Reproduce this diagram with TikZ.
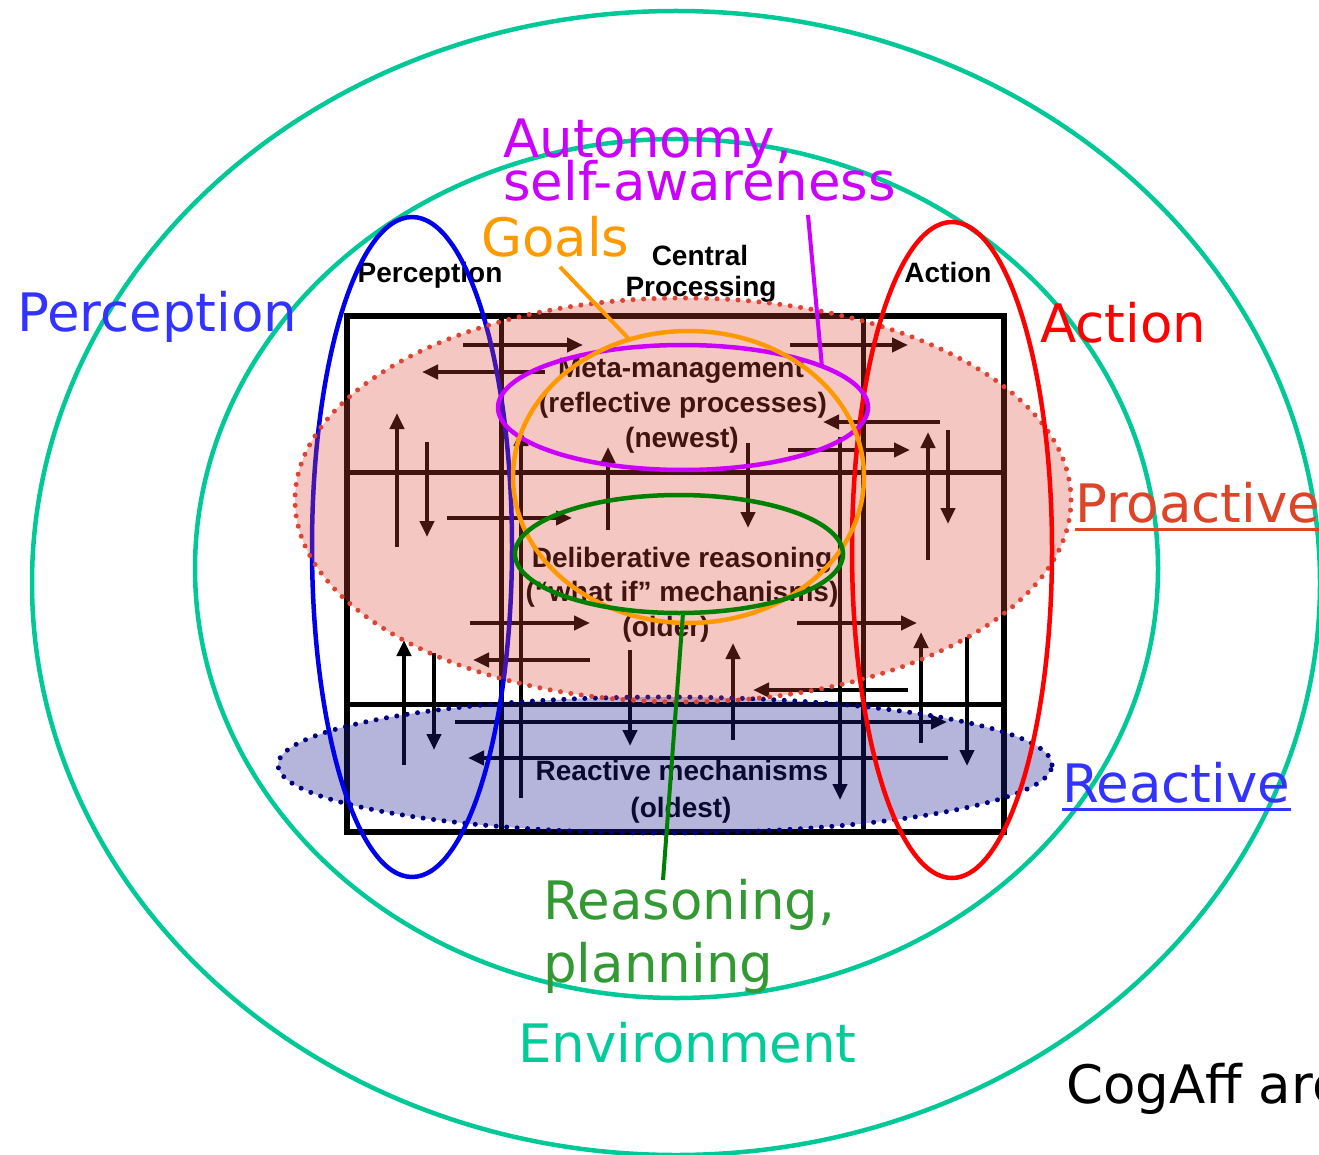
\documentclass[tikz,border=0pt]{standalone}
\usepackage{fontspec}
\setmainfont{DejaVu Sans}
\newfontfamily\scanfont{Liberation Sans}
\usetikzlibrary{arrows.meta}
\definecolor{envteal}{RGB}{0,200,150}
\definecolor{envtext}{RGB}{0,204,153}
\definecolor{percblue}{RGB}{0,0,235}
\definecolor{labblue}{RGB}{51,51,255}
\definecolor{actred}{RGB}{255,0,0}
\definecolor{proorange}{RGB}{221,68,40}
\definecolor{propink}{RGB}{218,68,54}
\definecolor{prodot}{RGB}{221,68,51}
\definecolor{reacfill}{RGB}{30,30,150}
\definecolor{reacdot}{RGB}{0,0,128}
\definecolor{autpurple}{RGB}{204,0,255}
\definecolor{goalorange}{RGB}{255,153,0}
\definecolor{reasgreen}{RGB}{0,128,0}
\definecolor{reastext}{RGB}{51,153,51}
\tikzset{
  bigtext/.style={font=\fontsize{53}{53}\selectfont, inner sep=0pt, anchor=base west},
  scantext/.style={font=\scanfont\bfseries\fontsize{28}{28}\selectfont, inner sep=0pt, anchor=base},
  scanline/.style={line width=5pt, black},
  scanarrow/.style={line width=4.5pt, black, -{Triangle[length=16pt,width=14pt]}},
  ring/.style={line width=4.5pt},
  dotborder/.style={line width=5pt, line cap=round, dash pattern=on 0pt off 10.5pt},
}
\begin{document}
\begin{tikzpicture}[x=1pt,y=-1pt]
\useasboundingbox (0,0) rectangle (1319,1155);
\begin{scope}
\clip (0,0) rectangle (1319,1155);
% environment rings
\draw[ring, envteal] (676,583) ellipse [x radius=644pt, y radius=572pt];
\draw[ring, envteal] (676.5,568.5) ellipse [x radius=481.5pt, y radius=429.5pt];

% scanned CogAff diagram
\node[scantext] (hperc) at (430,283) {Perception};
\node[scantext] (hcent) at (700,266) {Central};
\node[scantext] (hproc) at (701,297) {Processing};
\node[scantext] (hact) at (948,283) {Action};
\draw[scanline, line width=6.5pt] (347,316) rectangle (1004,832);
\draw[scanline] (501,316) -- (501,832);
\draw[scanline] (863,316) -- (863,832);
\draw[scanline] (347,472) -- (1004,472);
\draw[scanline] (347,704) -- (1004,704);
\foreach \xa/\ya/\xb/\yb in {
  463/345/583/345, 545/372/422/372, 790/345/908/345, 940/422/823/422,
  788/450/910/450, 447/518/572/518, 470/623/590/623, 590/660/473/660,
  797/623/917/623, 908/690/753/690, 455/722/947/722, 948/758/468/758,
  397/547/397/413, 427/442/427/537, 608/530/608/447, 748/443/748/528,
  928/560/928/432, 948/430/948/524, 404/765/404/640, 434/653/434/750,
  630/650/630/746, 733/740/733/643, 921/743/921/632, 967/637/967/766,
  840/437/840/800, 521/798/521/430}
  \draw[scanarrow] (\xa,\ya) -- (\xb,\yb);
\node[scantext] (meta1) at (681,377) {Meta-management};
\node[scantext] (meta2) at (683,412) {(reflective processes)};
\node[scantext] (meta3) at (682,447) {(newest)};
\node[scantext] (del1) at (682,567) {Deliberative reasoning};
\node[scantext] (del2) at (682,601) {(“what if” mechanisms)};
\node[scantext] (del3) at (666,636) {(older)};
\node[scantext] (rea1) at (682,780) {Reactive mechanisms};
\node[scantext] (rea2) at (681,817) {(oldest)};

% reactive overlay
\fill[reacfill, fill opacity=0.33] (665,765) ellipse [x radius=387pt, y radius=68pt];
\draw[dotborder, reacdot] (665,765) ellipse [x radius=387pt, y radius=68pt];
% perception ring
\draw[ring, percblue] (412,547) ellipse [x radius=100pt, y radius=330pt];
% proactive overlay
\fill[propink, fill opacity=0.3] (683,500) ellipse [x radius=388pt, y radius=202pt];
\draw[dotborder, prodot] (683,500) ellipse [x radius=388pt, y radius=202pt];
% action ring
\draw[ring, actred] (952,550) ellipse [x radius=100pt, y radius=328pt];
% autonomy, goals, reasoning rings
\draw[ring, autpurple] (683,407.5) ellipse [x radius=185pt, y radius=62.5pt];
\draw[ring, goalorange] (688.5,477) ellipse [x radius=175.5pt, y radius=146pt];
\draw[ring, reasgreen] (679,554) ellipse [x radius=164pt, y radius=59pt];

% labels
\node[bigtext, autpurple] (aut1) at (503,158) {Autonomy,};
\node[bigtext, autpurple] (aut2) at (503,201) {self-awareness};
\node[bigtext, goalorange] (goals) at (481,257) {Goals};
\node[bigtext, labblue] (lperc) at (17,331) {Perception};
\node[bigtext, actred] (lact) at (1040,342) {Action};
\node[bigtext, proorange] (lpro) at (1075,522) {Proactive};
\node[bigtext, labblue] (lrea) at (1062,802) {Reactive};
\node[bigtext, reastext] (reas1) at (543,919) {Reasoning,};
\node[bigtext, reastext] (reas2) at (543,982) {planning};
\node[bigtext, envtext] (env) at (518,1062) {Environment};
\node[bigtext, black] (cog) at (1066,1103) {CogAff arc};
\draw[proorange, line width=3pt] ([yshift=-7pt]lpro.base west) -- ([yshift=-7pt]lpro.base east);
\draw[labblue, line width=3pt] ([yshift=-7pt]lrea.base west) -- ([yshift=-7pt]lrea.base east);

% leader lines
\coordinate (goalsend) at (628,338);
\coordinate (autend) at (822,367);
\coordinate (reasend) at (683,613);
\draw[ring, goalorange, line width=4pt] (560,267) -- (goalsend);
\draw[ring, autpurple, line width=4pt] (808,215) -- (autend);
\draw[ring, reasgreen, line width=4pt] (663,880) -- (reasend);
\end{scope}
\end{tikzpicture}
\end{document}
